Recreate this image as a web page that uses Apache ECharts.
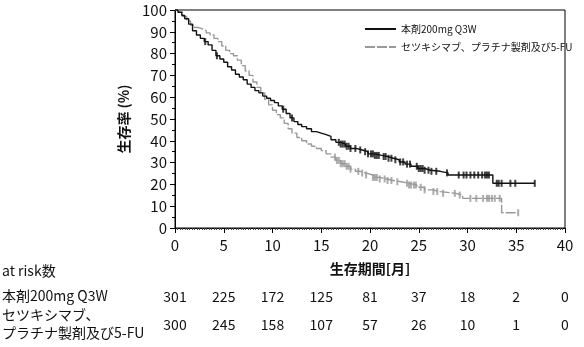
<!DOCTYPE html>
<html>
<head>
<meta charset="utf-8">
<script src="https://cdn.jsdelivr.net/npm/echarts@6/dist/echarts.min.js"></script>
<style>
html, body { margin: 0; padding: 0; background: #fff; }
#main { width: 584px; height: 347px; }
</style>
</head>
<body>
<div id="main"></div>
<script>
// 本剤200mg Q3W : 生存曲線 (月, %)
var blackT = [0, 0.3, 0.7, 1.0, 1.4, 1.8, 2.2, 2.6, 3.0, 3.4, 3.8, 4.2, 4.6, 5.0, 5.4, 5.8, 6.2, 6.6, 7.0, 7.4, 7.8, 8.2, 8.6, 9.0, 9.4, 9.8, 10.2, 10.6, 11.0, 11.4, 11.8, 12.2, 12.6, 13.0, 13.5, 14.0, 14.5, 15.0, 15.5, 16.0, 16.5, 17.0, 17.5, 18.0, 18.6, 19.2, 19.8, 20.5, 21.2, 21.8, 22.4, 23.0, 23.6, 24.2, 24.9, 25.6, 26.2, 27.2, 28.0, 32.6, 36.9];
var blackS = [100, 99, 97.5, 96, 93.5, 90.5, 88.5, 87, 85.5, 84, 81.5, 79, 77.5, 76, 74, 72.5, 70.5, 69.3, 68, 66, 64.5, 63, 62, 60.5, 59.5, 58.5, 57.5, 56, 54.5, 52.5, 50.5, 48.8, 47.5, 46.5, 45.5, 44.2, 43.5, 42.8, 42, 40.5, 39.3, 38.5, 37.5, 36.5, 35.8, 35, 34, 33.3, 32.8, 32, 31.3, 30.3, 29.3, 28.3, 27.3, 26.5, 26, 25.3, 24.3, 20.5, 20.5];
// 打ち切り
var blackCensor = [3.1, 4.3, 11.1, 12.0, 16.8, 17.0, 17.2, 17.4, 17.6, 17.8, 18.0, 18.5, 19.0, 19.5, 19.8, 20.1, 20.3, 20.5, 20.7, 20.9, 21.4, 21.6, 21.9, 22.2, 22.6, 23.1, 23.4, 23.8, 24.1, 24.8, 25.0, 25.2, 25.4, 25.6, 26.0, 26.3, 26.8, 27.9, 29.1, 29.6, 29.9, 30.3, 30.7, 31.1, 31.5, 31.8, 32.0, 32.2, 33.0, 33.2, 33.5, 34.4, 34.9, 36.9];

// セツキシマブ、プラチナ製剤及び5-FU
var grayT = [0, 0.4, 0.8, 1.2, 1.6, 2.0, 2.4, 2.8, 3.2, 3.6, 4.0, 4.4, 4.8, 5.2, 5.6, 6.0, 6.4, 6.8, 7.2, 7.6, 8.0, 8.4, 8.8, 9.2, 9.6, 10.0, 10.4, 10.8, 11.2, 11.6, 12.0, 12.5, 13.0, 13.5, 14.0, 14.5, 15.0, 15.5, 16.0, 16.5, 17.0, 17.5, 18.0, 18.5, 19.0, 19.6, 20.3, 21.0, 21.7, 22.4, 23.2, 24.0, 24.8, 25.6, 26.4, 27.2, 28.8, 29.5, 33.5, 35.2];
var grayS = [100, 99, 97, 95, 93, 92, 91.3, 90.5, 89.5, 88.5, 87, 85.5, 83.5, 81.5, 80, 79, 77, 74.5, 72, 70, 67, 64.5, 62, 59, 56.5, 54, 52, 50.5, 48, 45.5, 43.5, 41.5, 40, 38.5, 37.5, 36.5, 35.5, 34, 32.5, 31, 29.5, 28.3, 27, 26, 25.2, 24.3, 23.2, 22.5, 21.8, 21.2, 20.5, 19.7, 18.7, 17.5, 16.7, 15.9, 15.1, 13.6, 7, 7];
var grayCensor = [16.4, 16.6, 16.8, 17.0, 17.2, 17.4, 17.6, 17.8, 18.0, 18.8, 19.2, 19.6, 20.3, 20.5, 20.7, 21.0, 21.5, 21.8, 22.2, 22.8, 23.8, 24.0, 24.2, 24.5, 24.7, 25.2, 25.6, 26.5, 26.9, 27.5, 28.7, 29.2, 30.3, 30.9, 31.6, 32.0, 32.2, 32.5, 32.8, 33.3, 35.2];

// at risk数
var riskBlack = [301, 225, 172, 125, 81, 37, 18, 2, 0];
var riskGray = [300, 245, 158, 107, 57, 26, 10, 1, 0];

var nameBlack = '本剤200mg Q3W';
var nameGray = 'セツキシマブ、プラチナ製剤及び5-FU';

var FONT = '"Noto Sans CJK JP", "Noto Sans", sans-serif';

function pairs(t, s) {
	var out = [];
	for (var i = 0; i < t.length; i++) out.push([t[i], s[i]]);
	return out;
}
// 打ち切り時点の生存率（曲線から引く）
function censorPts(t, s, c) {
	var out = [];
	for (var j = 0; j < c.length; j++) {
		var k = 0;
		for (var i = 0; i < t.length; i++) { if (t[i] <= c[j]) k = i; }
		out.push([c[j], s[k]]);
	}
	return out;
}

function riskAxis(arr, offset) {
	return {
		type: 'value', gridIndex: 0, position: 'bottom', offset: offset,
		min: 0, max: 40, interval: 5,
		axisLine: { show: false }, axisTick: { show: false }, splitLine: { show: false },
		axisLabel: {
			margin: 8, color: '#111', fontSize: 14, fontFamily: FONT,
			formatter: function (v) { return String(arr[Math.round(v / 5)]); }
		}
	};
}

var myChart = echarts.init(document.getElementById('main'));
var option = {
	animation: false,
	backgroundColor: '#fff',
	grid: { left: 175, right: 19, top: 10, bottom: 119, show: true, borderColor: '#000', borderWidth: 1 },
	legend: {
		orient: 'vertical', left: 359, top: 19,
		itemWidth: 31, itemHeight: 10, itemGap: 8,
		data: [nameBlack, nameGray],
		itemStyle: { opacity: 0 },
		textStyle: { fontSize: 10, color: '#111', fontFamily: FONT }
	},
	xAxis: [
		{
			type: 'value', min: 0, max: 40, interval: 5,
			name: '生存期間[月]', nameLocation: 'middle', nameGap: 34,
			nameTextStyle: { fontSize: 14, color: '#111', fontFamily: FONT, fontWeight: 'bold' },
			axisLine: { lineStyle: { color: '#000', width: 1 } },
			axisTick: { length: 5, lineStyle: { color: '#000' } },
			minorTick: { show: true, splitNumber: 20, length: 2, lineStyle: { color: '#444' } },
			splitLine: { show: false },
			axisLabel: { margin: 10, color: '#111', fontSize: 15, fontFamily: FONT }
		},
		riskAxis(riskBlack, 54),
		riskAxis(riskGray, 82)
	],
	yAxis: {
		type: 'value', min: 0, max: 100, interval: 10,
		name: '生存率 (%)', nameLocation: 'middle', nameGap: 26, nameRotate: 90,
		nameTextStyle: { fontSize: 14, color: '#111', fontFamily: FONT, fontWeight: 'bold' },
		axisLine: { show: true, lineStyle: { color: '#000', width: 1 } },
		axisTick: { show: true, length: 5, lineStyle: { color: '#000' } },
		minorTick: { show: true, splitNumber: 2, length: 3, lineStyle: { color: '#000' } },
		splitLine: { show: false },
		axisLabel: { margin: 8, color: '#111', fontSize: 15, fontFamily: FONT }
	},
	graphic: [
		{ type: 'text', left: 2, top: 264, style: { text: 'at risk数', fontSize: 14, fill: '#111', fontFamily: FONT } },
		{ type: 'text', left: 2, top: 289, style: { text: nameBlack, fontSize: 14, fill: '#111', fontFamily: FONT } },
		{ type: 'text', left: 2, top: 308, style: { text: 'セツキシマブ、', fontSize: 14, fill: '#111', fontFamily: FONT } },
		{ type: 'text', left: 2, top: 326, style: { text: 'プラチナ製剤及び5-FU', fontSize: 14, fill: '#111', fontFamily: FONT } }
	],
	series: [
		{
			name: nameGray, type: 'line', step: 'end', symbol: 'none',
			data: pairs(grayT, grayS),
			lineStyle: { color: '#999', width: 1.4, type: [10, 2] },
			itemStyle: { color: '#999' }
		},
		{
			name: nameBlack, type: 'line', step: 'end', symbol: 'none',
			data: pairs(blackT, blackS),
			lineStyle: { color: '#111', width: 1.4 },
			itemStyle: { color: '#111' }
		},
		{
			name: 'gray censor', type: 'scatter', symbol: 'rect', symbolSize: [2, 7],
			data: censorPts(grayT, grayS, grayCensor),
			itemStyle: { color: '#999' }
		},
		{
			name: 'black censor', type: 'scatter', symbol: 'rect', symbolSize: [2, 7],
			data: censorPts(blackT, blackS, blackCensor),
			itemStyle: { color: '#111' }
		}
	]
};
myChart.setOption(option);
</script>
</body>
</html>
